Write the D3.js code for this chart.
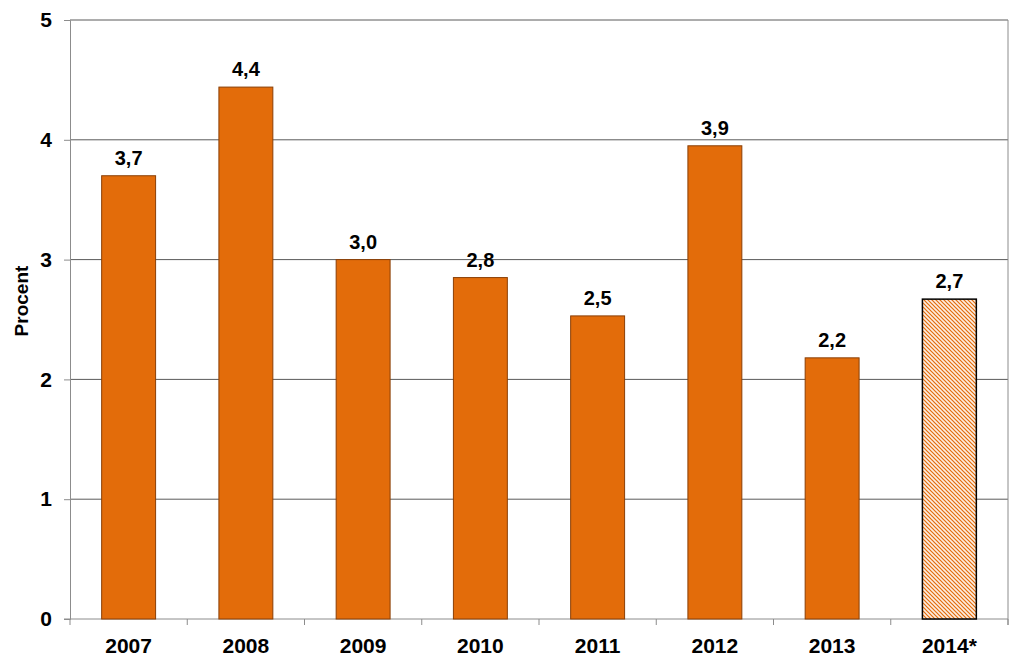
<!DOCTYPE html>
<html>
<head>
<meta charset="utf-8">
<script src="https://cdn.jsdelivr.net/npm/d3@7"></script>
<style>
  body { margin: 0; background: #fff; }
  svg { font-family: "Liberation Sans", Arial, sans-serif; font-weight: bold; }
</style>
</head>
<body>
<svg id="chart" width="1024" height="667"></svg>
<script>
// data
const years = ["2007", "2008", "2009", "2010", "2011", "2012", "2013", "2014*"]
const values = [3.70, 4.44, 3.00, 2.85, 2.53, 3.95, 2.18, 2.67]
const labels = ["3,7", "4,4", "3,0", "2,8", "2,5", "3,9", "2,2", "2,7"]
const forecast = ["2014*"]
const yTicks = [0, 1, 2, 3, 4, 5]

const margin = { left: 70, right: 16, top: 20, bottom: 48 }
const width = 1024, height = 667

const svg = d3.select("#chart")

const x = d3.scaleBand()
    .domain(years)
    .range([margin.left, width - margin.right])
    .paddingInner(0.54)
    .paddingOuter(0.27)

const y = d3.scaleLinear()
    .domain([0, 5])
    .range([height - margin.bottom, margin.top])

// hatch pattern for the forecast bar
const defs = svg.append("defs")
const pat = defs.append("pattern")
    .attr("id", "hatch")
    .attr("patternUnits", "userSpaceOnUse")
    .attr("width", 4).attr("height", 4)
pat.append("rect").attr("width", 4).attr("height", 4).attr("fill", "#fdeee2")
pat.append("path")
    .attr("d", "M-1,-1 L5,5 M-1,3 L1,5 M3,-1 L5,1")
    .attr("stroke", "#e36c0a").attr("stroke-width", 1.2)

// gridlines
svg.append("g")
    .selectAll("line")
    .data(yTicks.filter(d => d > 0))
    .join("line")
    .attr("x1", margin.left).attr("x2", width - margin.right)
    .attr("y1", d => y(d)).attr("y2", d => y(d))
    .attr("stroke", "#5a5a5a").attr("stroke-width", 1)

// right border
svg.append("line")
    .attr("x1", width - margin.right).attr("x2", width - margin.right)
    .attr("y1", margin.top).attr("y2", y(0) + 6)
    .attr("stroke", "#8c8c8c")

// y axis
const yAxis = svg.append("g")
    .attr("transform", `translate(${margin.left},0)`)
    .call(d3.axisLeft(y).tickValues(yTicks).tickSize(6).tickPadding(12).tickFormat(d3.format("d")))
yAxis.select(".domain").attr("stroke", "#8c8c8c")
yAxis.selectAll(".tick line").attr("stroke", "#8c8c8c")
yAxis.selectAll("text").attr("font-size", 21).attr("fill", "#000").attr("font-weight", "bold")
    .attr("font-family", "Liberation Sans, Arial, sans-serif")

// x axis, ticks between categories
const xAxis = svg.append("g")
    .attr("transform", `translate(0,${y(0)})`)
xAxis.append("line")
    .attr("x1", margin.left - 6).attr("x2", width - margin.right)
    .attr("stroke", "#8c8c8c")
const bounds = d3.range(years.length + 1).map(i => margin.left + i * x.step())
xAxis.selectAll(".xtick")
    .data(bounds)
    .join("line")
    .attr("x1", d => d).attr("x2", d => d)
    .attr("y1", 0).attr("y2", 6)
    .attr("stroke", "#8c8c8c")
xAxis.selectAll("text")
    .data(years)
    .join("text")
    .attr("x", d => x(d) + x.bandwidth() / 2)
    .attr("y", 34)
    .attr("text-anchor", "middle")
    .attr("font-size", 21)
    .text(d => d)

// bars
svg.append("g")
    .selectAll("rect")
    .data(years)
    .join("rect")
    .attr("x", d => x(d))
    .attr("y", (d, i) => y(values[i]))
    .attr("width", x.bandwidth())
    .attr("height", (d, i) => y(0) - y(values[i]))
    .attr("fill", d => forecast.includes(d) ? "url(#hatch)" : "#e36c0a")
    .attr("stroke", d => forecast.includes(d) ? "#000" : "#8a3f06")
    .attr("stroke-width", d => forecast.includes(d) ? 1.5 : 1)

// value labels
svg.append("g")
    .selectAll("text")
    .data(years)
    .join("text")
    .attr("x", d => x(d) + x.bandwidth() / 2)
    .attr("y", (d, i) => y(values[i]) - 11)
    .attr("text-anchor", "middle")
    .attr("font-size", 20)
    .text((d, i) => labels[i])

// y label
svg.append("text")
    .attr("transform", "translate(28,301) rotate(-90)")
    .attr("text-anchor", "middle")
    .attr("font-size", 19)
    .text("Procent")
</script>
</body>
</html>
